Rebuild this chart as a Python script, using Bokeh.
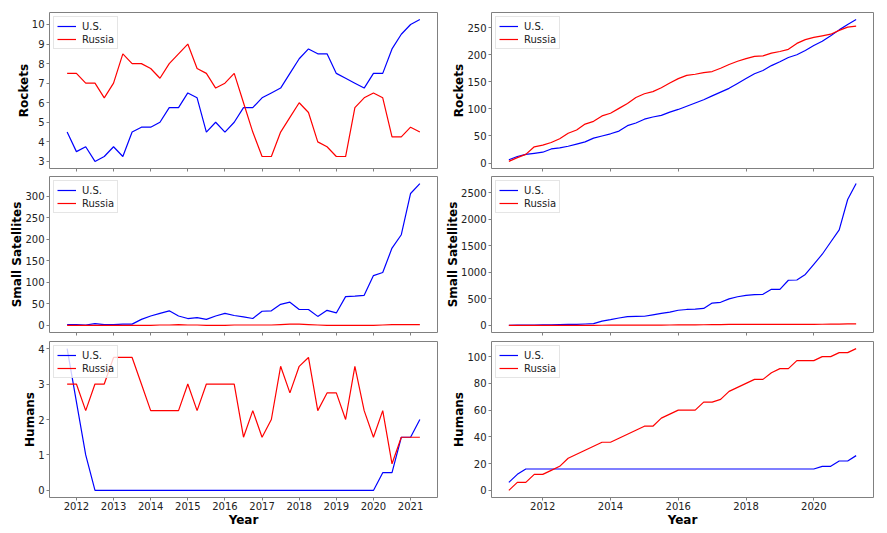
from bokeh.plotting import figure
from bokeh.layouts import column, row
from bokeh.models import FixedTicker, Range1d
from bokeh.embed import file_html
from bokeh.resources import INLINE

# ---------------- data ----------------
quarters_roll = [2011.75,
                 2012.0, 2012.25, 2012.5, 2012.75, 2013.0, 2013.25, 2013.5, 2013.75,
                 2014.0, 2014.25, 2014.5, 2014.75, 2015.0, 2015.25, 2015.5, 2015.75,
                 2016.0, 2016.25, 2016.5, 2016.75, 2017.0, 2017.25, 2017.5, 2017.75,
                 2018.0, 2018.25, 2018.5, 2018.75, 2019.0, 2019.25, 2019.5, 2019.75,
                 2020.0, 2020.25, 2020.5, 2020.75, 2021.0, 2021.25]

quarters_cum = [2011.0, 2011.25, 2011.5, 2011.75,
                2012.0, 2012.25, 2012.5, 2012.75, 2013.0, 2013.25, 2013.5, 2013.75,
                2014.0, 2014.25, 2014.5, 2014.75, 2015.0, 2015.25, 2015.5, 2015.75,
                2016.0, 2016.25, 2016.5, 2016.75, 2017.0, 2017.25, 2017.5, 2017.75,
                2018.0, 2018.25, 2018.5, 2018.75, 2019.0, 2019.25, 2019.5, 2019.75,
                2020.0, 2020.25, 2020.5, 2020.75, 2021.0, 2021.25]

# rolling (per-quarter average over a year)
us_rockets_roll = [4.5, 3.5, 3.75, 3.0, 3.25, 3.75, 3.25, 4.5, 4.75, 4.75,
                   5.0, 5.75, 5.75, 6.5, 6.25, 4.5, 5.0, 4.5, 5.0, 5.75,
                   5.75, 6.25, 6.5, 6.75, 7.5, 8.25, 8.75, 8.5, 8.5, 7.5,
                   7.25, 7.0, 6.75, 7.5, 7.5, 8.75, 9.5, 10.0, 10.25]
ru_rockets_roll = [7.5, 7.5, 7.0, 7.0, 6.25, 7.0, 8.5, 8.0, 8.0, 7.75,
                   7.25, 8.0, 8.5, 9.0, 7.75, 7.5, 6.75, 7.0, 7.5, 6.0,
                   4.5, 3.25, 3.25, 4.5, 5.25, 6.0, 5.5, 4.0, 3.75, 3.25,
                   3.25, 5.75, 6.25, 6.5, 6.25, 4.25, 4.25, 4.75, 4.5]

us_sats_roll = [2, 2, 1, 4, 2, 2, 3, 3, 14, 22,
                28, 34, 22, 16, 18, 14, 22, 28, 23, 20,
                16, 33, 34, 49, 54, 37, 37, 21, 35, 29,
                67, 68, 70, 116, 123, 180, 211, 307, 330]
ru_sats_roll = [0, 0, 0, 0, 0, 0, 0, 0, 0, 0,
                1, 1, 2, 1, 1, 0, 0, 0, 1, 1,
                1, 1, 1, 2, 3, 3, 2, 1, 0, 0,
                0, 0, 0, 0, 1, 2, 2, 2, 2]

us_humans_roll = [4.0, 2.5, 1.0, 0, 0, 0, 0, 0, 0, 0,
                  0, 0, 0, 0, 0, 0, 0, 0, 0, 0,
                  0, 0, 0, 0, 0, 0, 0, 0, 0, 0,
                  0, 0, 0, 0, 0.5, 0.5, 1.5, 1.5, 2.0]
ru_humans_roll = [3.0, 3.0, 2.25, 3.0, 3.0, 3.75, 3.75, 3.75, 3.0, 2.25,
                  2.25, 2.25, 2.25, 3.0, 2.25, 3.0, 3.0, 3.0, 3.0, 1.5,
                  2.25, 1.5, 2.0, 3.5, 2.75, 3.5, 3.75, 2.25, 2.75, 2.75,
                  2.0, 3.5, 2.25, 1.5, 2.25, 0.75, 1.5, 1.5, 1.5]

# cumulative
us_rockets_cum = [6, 12, 16, 18, 20, 26, 28, 31, 35, 39, 46, 50, 54, 59, 69, 74,
                  81, 85, 88, 94, 99, 105, 111, 117, 124, 131, 138, 147, 156, 165,
                  171, 180, 187, 195, 200, 208, 217, 225, 235, 246, 256, 265]
ru_rockets_cum = [3, 10, 16, 30, 33, 38, 45, 55, 61, 72, 77, 87, 92, 101, 110, 121,
                  128, 132, 139, 148, 156, 162, 164, 167, 169, 175, 182, 188, 193, 197,
                  198, 203, 206, 210, 221, 228, 232, 235, 238, 245, 251, 253]

us_sats_cum = [2, 4, 5, 7, 9, 11, 16, 18, 20, 27, 33, 81, 110, 140, 165, 170,
               172, 200, 225, 250, 285, 300, 305, 320, 420, 435, 500, 540, 565, 580,
               585, 680, 680, 850, 855, 960, 1150, 1340, 1570, 1800, 2370, 2670]
ru_sats_cum = [0, 0, 0, 0, 0, 0, 0, 0, 1, 1, 2, 3, 4, 5, 6, 6,
               6, 6, 7, 8, 9, 10, 11, 12, 14, 16, 18, 20, 21, 21,
               21, 21, 21, 21, 21, 21, 21, 22, 24, 26, 28, 30]

us_humans_cum = [6, 12, 16, 16, 16, 16, 16, 16, 16, 16, 16, 16, 16, 16, 16, 16,
                 16, 16, 16, 16, 16, 16, 16, 16, 16, 16, 16, 16, 16, 16,
                 16, 16, 16, 16, 16, 16, 16, 18, 18, 22, 22, 26]
ru_humans_cum = [0, 6, 6, 12, 12, 15, 18, 24, 27, 30, 33, 36, 36, 39, 42, 45,
                 48, 48, 54, 57, 60, 60, 60, 66, 66, 68, 74, 77, 80, 83,
                 83, 88, 91, 91, 97, 97, 97, 100, 100, 103, 103, 106]

ticks_year_left = [2012, 2013, 2014, 2015, 2016, 2017, 2018, 2019, 2020, 2021]
ticks_year_right = [2012, 2014, 2016, 2018, 2020]

yticks_rockets_roll = [3, 4, 5, 6, 7, 8, 9, 10]
yticks_sats_roll = [0, 50, 100, 150, 200, 250, 300]
yticks_humans_roll = [0, 1, 2, 3, 4]
yticks_rockets_cum = [0, 50, 100, 150, 200, 250]
yticks_sats_cum = [0, 500, 1000, 1500, 2000, 2500]
yticks_humans_cum = [0, 20, 40, 60, 80, 100]

series_names = ["U.S.", "Russia"]
series_colors = ["blue", "red"]

FONT = "DejaVu Sans"


def padded(vals):
    lo, hi = min(vals), max(vals)
    d = hi - lo
    return lo - 0.05 * d, hi + 0.05 * d


def make(x, us, ru, ylabel, xticks, yticks, bottom, left_col, top):
    x0, x1 = padded(x)
    y0, y1 = padded(list(us) + list(ru))
    if top:
        btop = 12
    elif bottom:
        btop = 5
    else:
        btop = 4
    p = figure(
        frame_width=388 if left_col else 382,
        frame_height=156,
        x_range=Range1d(x0, x1),
        y_range=Range1d(y0, y1),
        output_backend="svg",
        toolbar_location=None,
        min_border_left=49 if left_col else 50,
        min_border_right=4 if left_col else 6,
        min_border_top=btop,
        min_border_bottom=0 if bottom else 4,
        background_fill_color="white",
        border_fill_color="white",
    )
    p.line(x, us, color=series_colors[0], line_width=1.2, legend_label=series_names[0])
    p.line(x, ru, color=series_colors[1], line_width=1.2, legend_label=series_names[1])

    p.xgrid.visible = False
    p.ygrid.visible = False
    p.outline_line_color = "#808080"
    p.outline_line_width = 1

    for ax in p.axis:
        ax.axis_line_color = None
        ax.major_tick_line_color = "#808080"
        ax.major_tick_out = 3
        ax.major_tick_in = 0
        ax.minor_tick_line_color = None
        ax.major_label_text_font = FONT
        ax.major_label_text_font_size = "10px"
        ax.major_label_text_color = "#222222"
        ax.major_label_standoff = 2
        ax.axis_label_text_font = FONT
        ax.axis_label_text_font_size = "12px"
        ax.axis_label_text_font_style = "bold"
        ax.axis_label_text_color = "black"

    p.yaxis.axis_label_standoff = -2
    p.xaxis.ticker = FixedTicker(ticks=xticks)
    p.yaxis.ticker = FixedTicker(ticks=yticks)
    p.yaxis.axis_label = ylabel
    if bottom:
        p.xaxis.axis_label = "Year"
        p.xaxis.axis_label_standoff = 0
        p.xaxis.major_label_standoff = 1
    else:
        p.xaxis.major_label_overrides = {t: "" for t in xticks}
        p.xaxis.major_label_standoff = 0

    lg = p.legend[0]
    lg.location = "top_left"
    lg.margin = 4
    lg.padding = 3
    lg.spacing = 1
    lg.glyph_width = 19
    lg.glyph_height = 12
    lg.label_height = 12
    lg.label_standoff = 6
    lg.label_text_font = FONT
    lg.label_text_font_size = "10px"
    lg.label_text_color = "#222222"
    lg.border_line_color = "#cccccc"
    lg.border_line_width = 1
    lg.background_fill_alpha = 0.8
    return p


p1 = make(quarters_roll, us_rockets_roll, ru_rockets_roll, "Rockets",
          ticks_year_left, yticks_rockets_roll, False, True, True)
p2 = make(quarters_cum, us_rockets_cum, ru_rockets_cum, "Rockets",
          ticks_year_right, yticks_rockets_cum, False, False, True)
p3 = make(quarters_roll, us_sats_roll, ru_sats_roll, "Small Satellites",
          ticks_year_left, yticks_sats_roll, False, True, False)
p4 = make(quarters_cum, us_sats_cum, ru_sats_cum, "Small Satellites",
          ticks_year_right, yticks_sats_cum, False, False, False)
p5 = make(quarters_roll, us_humans_roll, ru_humans_roll, "Humans",
          ticks_year_left, yticks_humans_roll, True, True, False)
p6 = make(quarters_cum, us_humans_cum, ru_humans_cum, "Humans",
          ticks_year_right, yticks_humans_cum, True, False, False)

layout = column(row(p1, p2), row(p3, p4), row(p5, p6))

open("out.html", "w").write(file_html(layout, INLINE))
